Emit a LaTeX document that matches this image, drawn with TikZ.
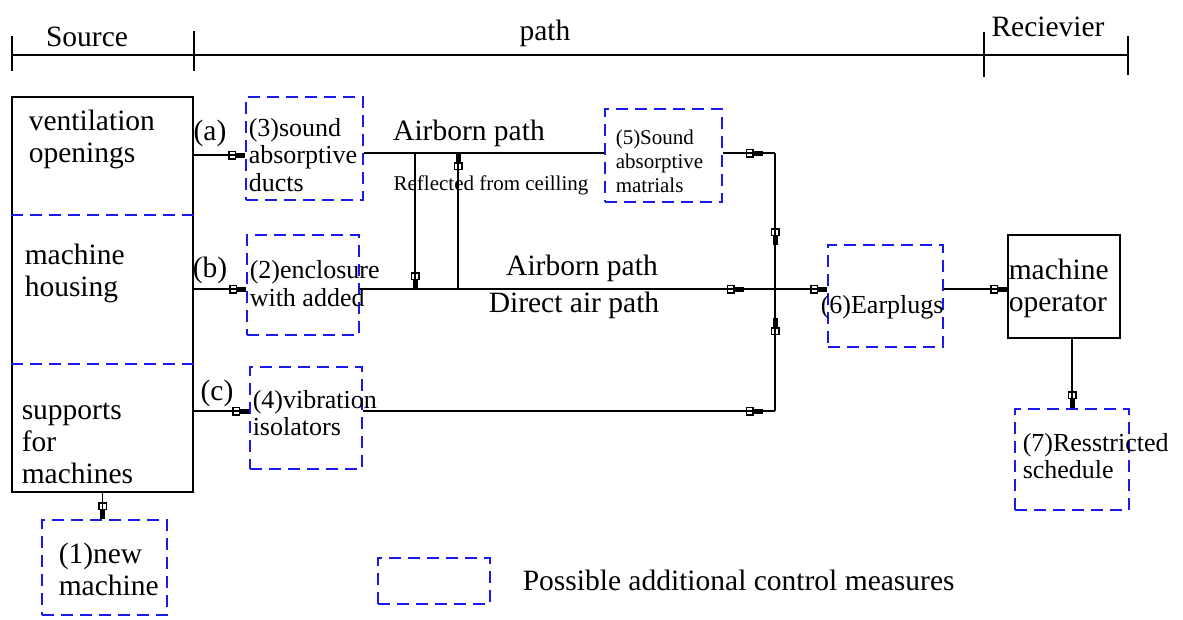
\documentclass[tikz,border=0pt]{standalone}
\usepackage{fontspec}
\setmainfont{Liberation Serif}
\usetikzlibrary{arrows.meta,decorations.markings}
\definecolor{mblue}{RGB}{25,25,235}
\newcommand{\bigtxt}{\fontsize{29.5}{32}\selectfont}
\newcommand{\boxtxt}{\fontsize{26}{27.5}\selectfont}
\newcommand{\smalltxt}{\fontsize{21}{24}\selectfont}
\tikzset{
	>={Rectangle[open,length=8pt,width=9pt]Rectangle[length=9pt,width=5pt]},
	solidbox/.style={draw, inner sep=0pt},
	ctrlbox/.style={draw=mblue, dash pattern=on 12pt off 7pt, inner sep=0pt},
	lbl/.style={inner sep=0pt, font=\bigtxt},
	boxlbl/.style={inner sep=0pt, font=\boxtxt, align=left, anchor=west},
	smalllbl/.style={inner sep=0pt, font=\smalltxt},
	arr/.style={->},
	midarr/.style={postaction={decorate}, decoration={markings, mark=at position #1 with {\arrow{>}}}}
}
\begin{document}
\begin{tikzpicture}[x=1pt,y=-1pt,line width=1.5pt]
		\useasboundingbox (0,0) rectangle (1183,619);

		\draw (12,55) -- (1128,55);
		\draw (12,36) -- (12,71);
		\draw (194,31) -- (194,71);
		\draw (984,32) -- (984,77);
		\draw (1128,36) -- (1128,75);
		\node[lbl] (srchead) at (87,37) {Source};
		\node[lbl] (pathhead) at (545,33) {path};
		\node[lbl] (rcvhead) at (1048,27) {Recievier};

		\node[solidbox, minimum width=181pt, minimum height=395pt] (src) at (102.5,294.5) {};
		\coordinate (sep1) at (0,215);
		\coordinate (sep2) at (0,364);
		\draw[ctrlbox] (src.west |- sep1) -- (src.east |- sep1);
		\draw[ctrlbox] (src.west |- sep2) -- (src.east |- sep2);
		\node[lbl, align=left, anchor=west] (venttxt) at (28,139) {ventilation\\openings};
		\node[lbl, align=left, anchor=west] (houstxt) at (24,273) {machine\\housing};
		\node[lbl, align=left, anchor=west] (supptxt) at (21,443) {supports\\for\\machines};

		\node[ctrlbox, minimum width=117pt, minimum height=103pt] (box3) at (304.5,148.5) {};
		\node[ctrlbox, minimum width=112pt, minimum height=100pt] (box2) at (303,285) {};
		\node[ctrlbox, minimum width=112pt, minimum height=102pt] (box4) at (306,418) {};
		\node[ctrlbox, minimum width=117pt, minimum height=93pt] (box5) at (663.5,155.5) {};
		\node[ctrlbox, minimum width=115pt, minimum height=102pt] (box6) at (885.5,296) {};
		\node[solidbox, minimum width=112pt, minimum height=103pt] (oper) at (1064,286.5) {};
		\node[ctrlbox, minimum width=114pt, minimum height=101pt] (box7) at (1072,459.5) {};
		\node[ctrlbox, minimum width=125pt, minimum height=95pt] (box1) at (104.5,567.5) {};
		\node[ctrlbox, minimum width=112pt, minimum height=46pt] (legbox) at (434,581) {};

		\node[boxlbl] (txt3) at (248,155) {(3)sound\\absorptive\\ducts};
		\node[boxlbl] (txt2) at (249,283.5) {(2)enclosure\\with added};
		\node[boxlbl] (txt4) at (252,413) {(4)vibration\\isolators};
		\node[smalllbl, align=left, anchor=west] (txt5) at (615,161) {(5)Sound\\absorptive\\matrials};
		\node[boxlbl] (txt6) at (820,307) {(6)Earplugs};
		\node[lbl, align=left, anchor=west] (opertxt) at (1008,288.5) {machine\\operator};
		\node[boxlbl] (txt7) at (1022,456) {(7)Resstricted\\schedule};
		\node[lbl, align=left, anchor=west] (txt1) at (58,569) {(1)new\\machine};
		\node[lbl, anchor=west] (legtxt) at (522,580) {Possible additional control measures};

		\node[lbl] (lbla) at (210,133) {(a)};
		\node[lbl] (lblb) at (210,270) {(b)};
		\node[lbl] (lblc) at (217,393) {(c)};
		\node[lbl] (airtop) at (469,133) {Airborn path};
		\node[smalllbl] (refl) at (491,185) {Reflected from ceilling};
		\node[lbl] (airmid) at (582,268) {Airborn path};
		\node[lbl] (direct) at (574,305) {Direct air path};

		\coordinate (ya) at (0,155);
		\coordinate (jtop) at (775,153);
		\coordinate (jmid) at (775,289);
		\coordinate (jbot) at (775,411);
		\coordinate (rdown) at (415,153);
		\coordinate (rup) at (458,289);

		\draw[arr] (src.east |- ya) -- (box3.west |- ya);
		\draw[arr] (src.east |- jmid) -- (box2.west |- jmid);
		\draw[arr] (src.east |- jbot) -- (box4.west |- jbot);
		\draw[arr] (src.south) -- (src.south |- box1.north);

		\draw (box3.east |- jtop) -- (box5.west |- jtop);
		\draw[midarr=40pt] (box5.east |- jtop) -- (jtop);
		\draw[midarr=92pt] (jtop) -- (jmid);
		\draw[midarr=93pt] (jbot) -- (jmid);
		\draw[midarr=400pt] (box4.east |- jbot) -- (jbot);
		\draw[midarr=384pt] (box2.east |- jmid) -- (jmid);
		\draw[arr] (rdown) -- (rdown |- jmid);
		\draw[arr] (rup) -- (rup |- jtop);

		\draw[arr] (jmid) -- (box6.west |- jmid);
		\draw[arr] (box6.east |- jmid) -- (oper.west |- jmid);
		\draw[arr] (oper.south -| box7.north) -- (box7.north);
	\end{tikzpicture}
\end{document}
